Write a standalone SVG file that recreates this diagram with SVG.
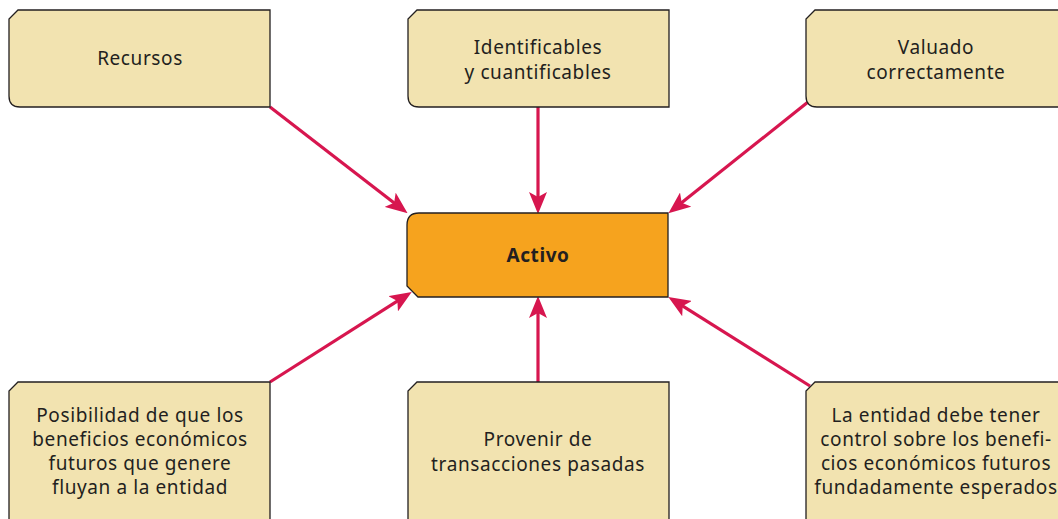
<svg xmlns="http://www.w3.org/2000/svg" width="1058" height="519" viewBox="0 0 1058 519">
<style>
.box{fill:#F2E3B0;stroke:#231F20;stroke-width:1.3}
.main{fill:#F6A31E;stroke:#231F20;stroke-width:1.3}
.t{font-family:"Noto Sans","Open Sans",sans-serif;font-size:19px;letter-spacing:0.6px;fill:#231F20;text-anchor:middle;font-variant-ligatures:none}
.b{font-weight:bold}
.c{stroke:#D7164F;stroke-width:3.2;fill:none}
</style>
<defs>
<marker id="ah" markerUnits="userSpaceOnUse" viewBox="0 0 22 18" refX="10" refY="9" markerWidth="22" markerHeight="18" orient="auto">
<path d="M0,0 L22,9 L0,18 L5,9 Z" fill="#D7164F"/>
</marker>
</defs>
<rect width="1058" height="519" fill="#fff"/>
<g id="connectors">
<line class="c" x1="270" y1="107" x2="398.1" y2="205.9" marker-end="url(#ah)"/>
<line class="c" x1="538" y1="107" x2="538" y2="202" marker-end="url(#ah)"/>
<line class="c" x1="808" y1="102" x2="677.8" y2="205.8" marker-end="url(#ah)"/>
<line class="c" x1="270" y1="382" x2="401.6" y2="298.4" marker-end="url(#ah)"/>
<line class="c" x1="538" y1="382" x2="538" y2="308" marker-end="url(#ah)"/>
<line class="c" x1="810" y1="386" x2="678.5" y2="303.3" marker-end="url(#ah)"/>
</g>
<g id="n-recursos">
<path class="box" d="M18,10 L270,10 L270,107 L20,107 Q9,107 9,96 L9,19 Z"/>
<text class="t" x="140" y="65">Recursos</text>
</g>
<g id="n-identificables">
<path class="box" d="M417,10 L669,10 L669,107 L419,107 Q408,107 408,96 L408,19 Z"/>
<text class="t" x="538" y="54">Identificables</text>
<text class="t" x="538" y="79">y cuantificables</text>
</g>
<g id="n-valuado">
<path class="box" d="M815,10 L1066,10 L1066,107 L817,107 Q806,107 806,96 L806,19 Z"/>
<text class="t" x="936" y="54">Valuado</text>
<text class="t" x="936" y="79">correctamente</text>
</g>
<g id="n-activo">
<path class="main" d="M419,213 L668,213 L668,297 L418,297 L407,286 L407,225 Q407,213 419,213 Z"/>
<text class="t b" x="538" y="262">Activo</text>
</g>
<g id="n-posibilidad">
<path class="box" d="M18,382 L270,382 L270,530 L20,530 Q9,530 9,519 L9,391 Z"/>
<text class="t" x="140" y="422">Posibilidad de que los</text>
<text class="t" x="140" y="446">beneficios económicos</text>
<text class="t" x="140" y="470">futuros que genere</text>
<text class="t" x="140" y="494">fluyan a la entidad</text>
</g>
<g id="n-provenir">
<path class="box" d="M417,382 L669,382 L669,530 L419,530 Q408,530 408,519 L408,391 Z"/>
<text class="t" x="538" y="446">Provenir de</text>
<text class="t" x="538" y="471">transacciones pasadas</text>
</g>
<g id="n-control">
<path class="box" d="M815,382 L1066,382 L1066,530 L817,530 Q806,530 806,519 L806,391 Z"/>
<text class="t" x="936" y="422">La entidad debe tener</text>
<text class="t" x="936" y="446">control sobre los benefi-</text>
<text class="t" x="936" y="470">cios económicos futuros</text>
<text class="t" x="936" y="494">fundadamente esperados</text>
</g>
</svg>
